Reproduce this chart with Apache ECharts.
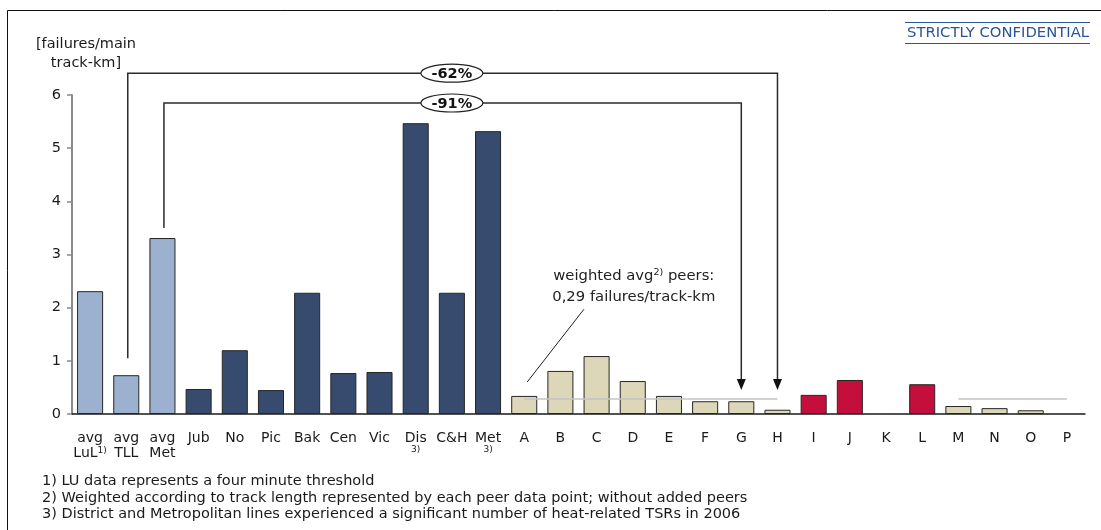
<!DOCTYPE html>
<html>
<head>
<meta charset="utf-8">
<script src="https://cdn.jsdelivr.net/npm/echarts@6/dist/echarts.min.js"></script>
<style>
  html, body { margin: 0; padding: 0; background: #ffffff; }
  #chart { width: 1101px; height: 530px; }
</style>
</head>
<body>
<div id="chart"></div>
<script>
// ---- data -----------------------------------------------------------------
const categories = ['avg\nLuL', 'avg\nTLL', 'avg\nMet', 'Jub', 'No', 'Pic', 'Bak', 'Cen', 'Vic', 'Dis', 'C&H', 'Met',
                    'A', 'B', 'C', 'D', 'E', 'F', 'G', 'H', 'I', 'J', 'K', 'L', 'M', 'N', 'O', 'P'];
const noteMarks  = ['1)', '', '', '', '', '', '', '', '', '3)', '', '3)',
                    '', '', '', '', '', '', '', '', '', '', '', '', '', '', '', ''];
const failures   = [2.31, 0.73, 3.31, 0.47, 1.20, 0.45, 2.28, 0.77, 0.79, 5.47, 2.28, 5.32,
                    0.34, 0.81, 1.09, 0.62, 0.34, 0.24, 0.24, 0.08, 0.36, 0.64, null, 0.56, 0.15, 0.11, 0.07, null];
const groups     = ['avg', 'avg', 'avg', 'line', 'line', 'line', 'line', 'line', 'line', 'line', 'line', 'line',
                    'peer', 'peer', 'peer', 'peer', 'peer', 'peer', 'peer', 'peer', 'focus', 'focus', 'peer', 'focus',
                    'peer', 'peer', 'peer', 'peer'];
const peerAvg = 0.29;
const peerAvgRanges = [['A', 'H'], ['M', 'P']];
const reductionLabels = ['-62%', '-91%'];
const reductionFrom   = ['avg\nTLL', 'avg\nMet'];
const reductionTo     = ['H', 'G'];
const footnotes = [
  '1) LU data represents a four minute threshold',
  '2) Weighted according to track length represented by each peer data point; without added peers',
  '3) District and Metropolitan lines experienced a significant number of heat-related TSRs in 2006'
];

// ---- styling / layout -----------------------------------------------------
const FONT = '"DejaVu Sans", Verdana, sans-serif';
const palette = { avg: '#9cb0cf', line: '#364b6d', peer: '#dcd7b9', focus: '#c40f3c' };
const bracketLevels = [6.41, 5.85];   // height of the horizontal run of each bracket
const bracketStarts = [1.05, 3.50];   // where each bracket leaves its source bar
const arrowTip = 0.45;
const bracketLabelCat = 'C&H';
const note = { textCat: 'D', line1: 2.60, line2: 2.20,
               fromCat: 'A', fromVal: 0.60, fromShift: 0.08,
               toCat: 'C', toVal: 1.97, toShift: -0.35 };

const chart = echarts.init(document.getElementById('chart'), null, { renderer: 'canvas' });

const barData = failures.map((v, i) => ({
  value: v,
  itemStyle: { color: palette[groups[i]] }
}));

function renderBracket(params, api) {
  const i = params.dataIndex;
  const fromIdx = api.value(0);
  const toIdx = api.value(2);
  const level = api.value(1);
  const labIdx = categories.indexOf(bracketLabelCat);
  const p0 = api.coord([fromIdx, bracketStarts[i]]);
  const p1 = api.coord([fromIdx, level]);
  const p2 = api.coord([toIdx, level]);
  const tip = api.coord([toIdx, arrowTip]);
  const lab = api.coord([labIdx, level]);
  const fx = p0[0] + 1.5;
  return {
    type: 'group',
    children: [
      { type: 'polyline',
        shape: { points: [[fx, p0[1]], [fx, p1[1]], p2, [tip[0], tip[1] - 9]] },
        style: { stroke: '#2b2b2b', lineWidth: 1.5, fill: null } },
      { type: 'polygon',
        shape: { points: [[tip[0] - 4.5, tip[1] - 11], [tip[0] + 4.5, tip[1] - 11], [tip[0], tip[1]]] },
        style: { fill: '#111111' } },
      { type: 'ellipse',
        shape: { cx: lab[0], cy: lab[1], rx: 31, ry: 9 },
        style: { fill: '#ffffff', stroke: '#222222', lineWidth: 1.2 } },
      { type: 'text',
        style: { text: reductionLabels[i], x: lab[0], y: lab[1] + 1, align: 'center', verticalAlign: 'middle',
                 font: 'bold 14.5px ' + FONT, fill: '#111111' } }
    ]
  };
}

function renderNote(params, api) {
  const band = api.size([1, 0])[0];
  const t1 = api.coord([categories.indexOf(note.textCat), note.line1]);
  const t2 = api.coord([categories.indexOf(note.textCat), note.line2]);
  const a = api.coord([categories.indexOf(note.fromCat), note.fromVal]);
  const b = api.coord([categories.indexOf(note.toCat), note.toVal]);
  const avgText = String(peerAvg.toFixed(2)).replace('.', ',');
  return {
    type: 'group',
    children: [
      { type: 'line',
        shape: { x1: a[0] + note.fromShift * band, y1: a[1], x2: b[0] + note.toShift * band, y2: b[1] },
        style: { stroke: '#222222', lineWidth: 1 } },
      { type: 'text',
        style: { text: 'weighted avg{sup|2)} peers:', x: t1[0] + 1, y: t1[1], align: 'center', verticalAlign: 'middle',
                 font: '14.8px ' + FONT, fill: '#222222',
                 rich: { sup: { fontSize: 9.5, fontFamily: FONT, verticalAlign: 'top', padding: [0, 0, 6, 0] } } } },
      { type: 'text',
        style: { text: avgText + ' failures/track-km', x: t2[0] + 1, y: t2[1], align: 'center', verticalAlign: 'middle',
                 font: '14.8px ' + FONT, fill: '#222222' } }
    ]
  };
}

const option = {
  animation: false,
  backgroundColor: '#ffffff',
  grid: { left: 72, right: 16, top: 95, bottom: 116, outerBoundsMode: 'none' },
  xAxis: {
    type: 'category',
    data: categories,
    axisLine: { show: true, lineStyle: { color: '#1a1a1a', width: 1.5 } },
    axisTick: { show: false },
    axisLabel: {
      interval: 0,
      margin: 17,
      color: '#1a1a1a',
      fontFamily: FONT,
      fontSize: 14,
      lineHeight: 15,
      formatter: function (v, i) {
        const m = noteMarks[i];
        if (!m) return v;
        if (v.indexOf('\n') >= 0) return v + '{sup|' + m + '}';
        return v + '\n{sub|' + m + '}';
      },
      rich: {
        sup: { fontSize: 9, fontFamily: FONT, color: '#1a1a1a', verticalAlign: 'top', lineHeight: 15, padding: [0, 0, 5, 0] },
        sub: { fontSize: 9, fontFamily: FONT, color: '#1a1a1a', lineHeight: 8 }
      }
    }
  },
  yAxis: {
    type: 'value',
    min: 0,
    max: 6,
    interval: 1,
    axisLine: { show: true, lineStyle: { color: '#8a8a8a', width: 2 } },
    axisTick: { show: true, length: 5, lineStyle: { color: '#8a8a8a', width: 1.5 } },
    splitLine: { show: false },
    axisLabel: { margin: 11, color: '#1a1a1a', fontFamily: FONT, fontSize: 14.5 }
  },
  series: [
    {
      type: 'bar',
      data: barData,
      barWidth: '72%',
      itemStyle: { borderColor: '#262626', borderWidth: 1 },
      emphasis: { disabled: true },
      markLine: {
        silent: true,
        symbol: 'none',
        label: { show: false },
        lineStyle: { color: '#c4c4c4', width: 1.5, type: 'solid' },
        data: peerAvgRanges.map(r => [{ coord: [r[0], peerAvg] }, { coord: [r[1], peerAvg] }])
      },
      z: 2
    },
    {
      type: 'custom',
      renderItem: renderBracket,
      clip: false,
      silent: true,
      z: 5,
      encode: { x: [0, 2], y: 1 },
      data: reductionLabels.map((_, i) => [categories.indexOf(reductionFrom[i]), bracketLevels[i], categories.indexOf(reductionTo[i])])
    },
    {
      type: 'custom',
      renderItem: renderNote,
      clip: false,
      silent: true,
      z: 5,
      encode: { x: 0, y: 1 },
      data: [[categories.indexOf(note.textCat), note.line1]]
    }
  ],
  graphic: [
    // page frame
    { type: 'line', shape: { x1: 7.5, y1: 10.5, x2: 1101, y2: 10.5 }, style: { stroke: '#111111', lineWidth: 1 } },
    { type: 'line', shape: { x1: 7.5, y1: 10.5, x2: 7.5, y2: 530 }, style: { stroke: '#111111', lineWidth: 1 } },
    // confidentiality tag
    { type: 'line', shape: { x1: 905, y1: 22.5, x2: 1090, y2: 22.5 }, style: { stroke: '#2a5599', lineWidth: 1.2 } },
    { type: 'line', shape: { x1: 905, y1: 43.5, x2: 1090, y2: 43.5 }, style: { stroke: '#2a5599', lineWidth: 1.2 } },
    { type: 'text', x: 1089, y: 33,
      style: { text: 'STRICTLY CONFIDENTIAL', align: 'right', verticalAlign: 'middle', font: '14.8px ' + FONT, fill: '#2a5599' } },
    // axis unit
    { type: 'text', x: 86, y: 54,
      style: { text: '[failures/main\ntrack-km]', align: 'center', verticalAlign: 'middle', lineHeight: 19,
               font: '14.5px ' + FONT, fill: '#1a1a1a' } },
    // footnotes
    { type: 'text', x: 42, y: 473,
      style: { text: footnotes.join('\n'), align: 'left', verticalAlign: 'top', lineHeight: 16.5,
               font: '14.5px ' + FONT, fill: '#1a1a1a' } }
  ]
};

chart.setOption(option);
</script>
</body>
</html>
